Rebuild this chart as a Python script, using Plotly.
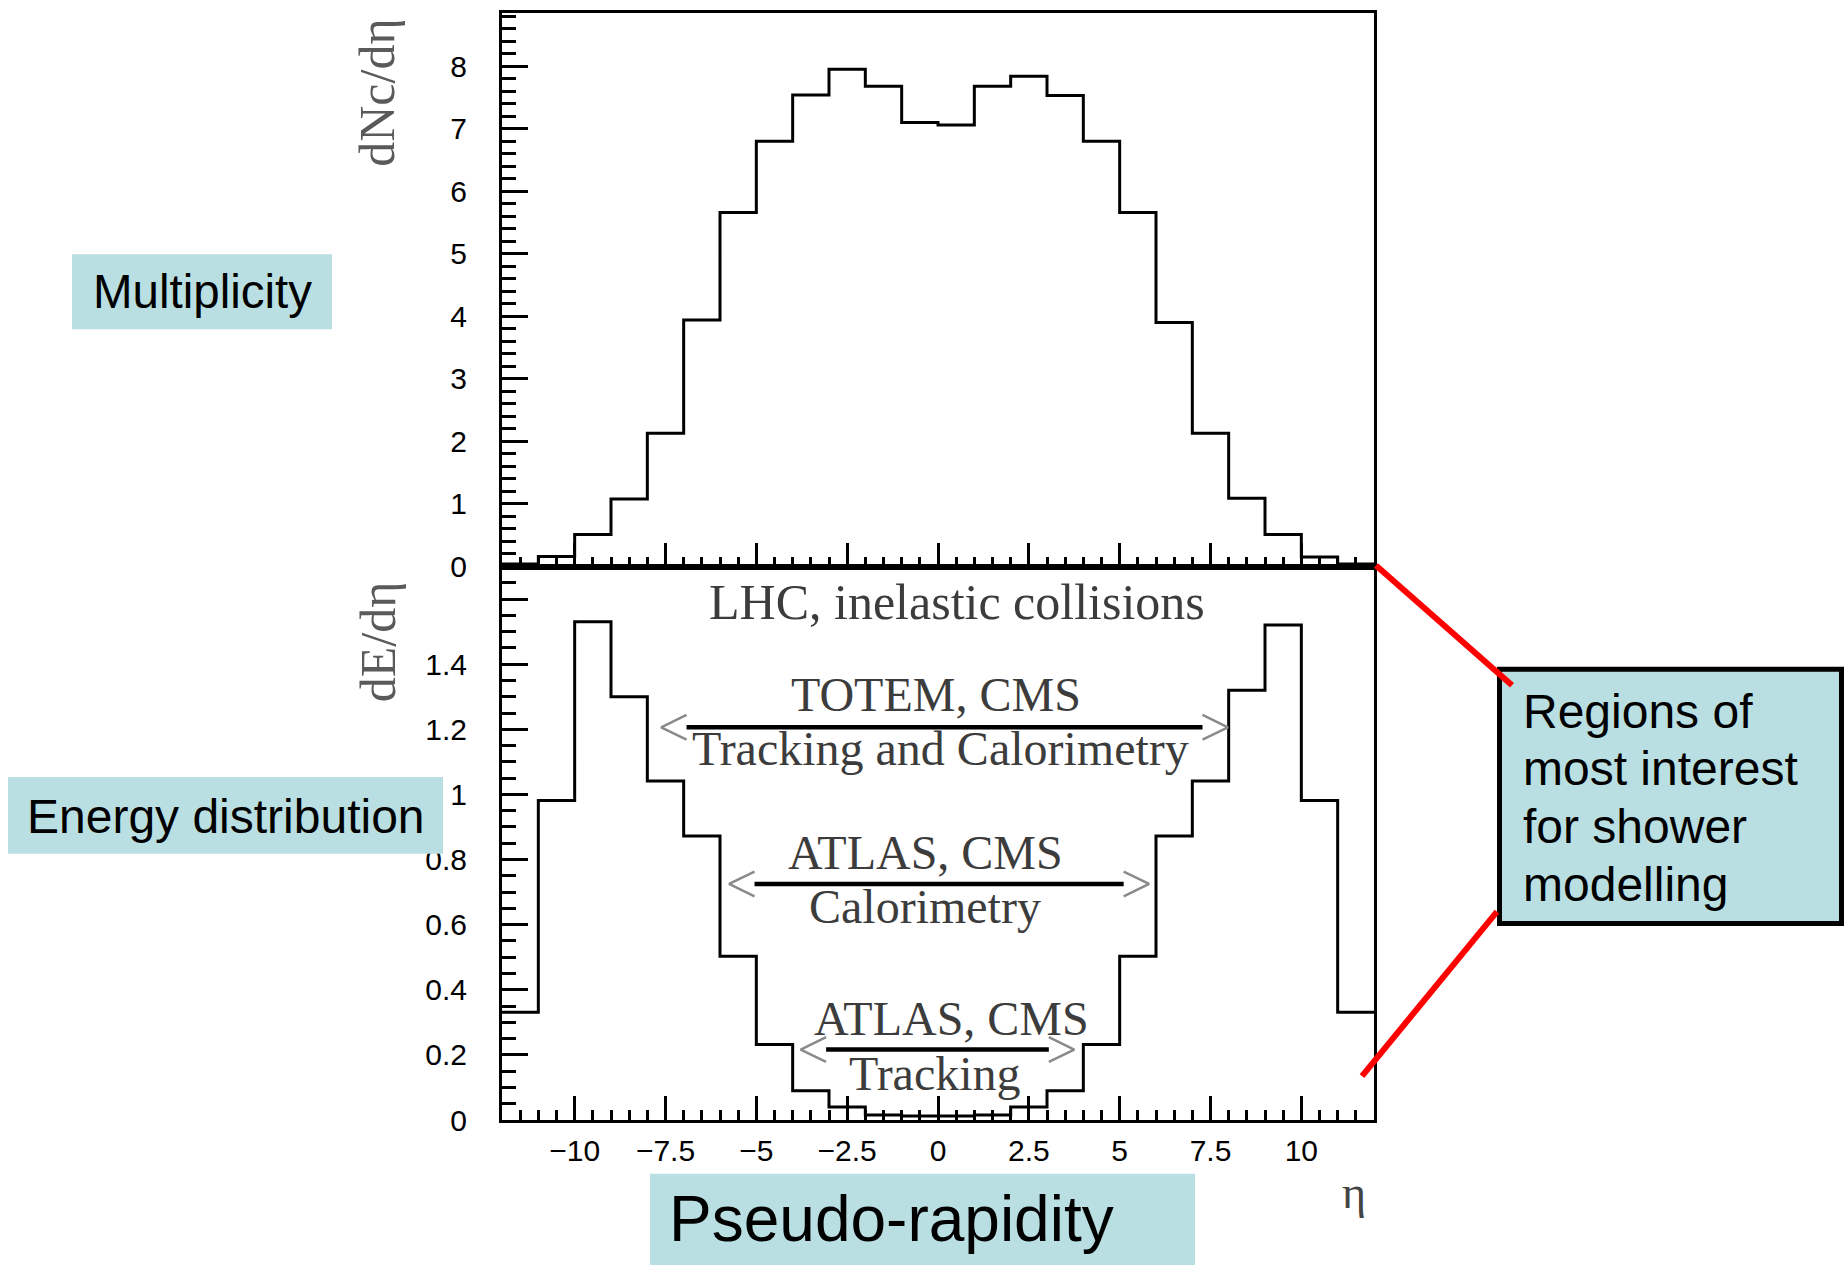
import plotly.graph_objects as go

# ---------------- data ----------------
eta_edges = [-12, -11, -10, -9, -8, -7, -6, -5, -4, -3, -2, -1, 0,
             1, 2, 3, 4, 5, 6, 7, 8, 9, 10, 11, 12]
dNc_deta = [0.04, 0.16, 0.51, 1.08, 2.13, 3.94, 5.66, 6.80, 7.54, 7.95, 7.68, 7.10,
            7.06, 7.68, 7.84, 7.53, 6.80, 5.66, 3.90, 2.13, 1.09, 0.51, 0.15, 0.04]
dE_deta = [0.331, 0.981, 1.53, 1.30, 1.041, 0.872, 0.503, 0.232, 0.09, 0.04, 0.015, 0.012,
           0.012, 0.015, 0.04, 0.09, 0.232, 0.503, 0.872, 1.041, 1.32, 1.52, 0.981, 0.331]

x_tickvals = [-10, -7.5, -5, -2.5, 0, 2.5, 5, 7.5, 10]
x_ticktext = ["\u221210", "\u22127.5", "\u22125", "\u22122.5", "0", "2.5", "5", "7.5", "10"]
y1_tickvals = [0, 1, 2, 3, 4, 5, 6, 7, 8]
y1_ticktext = ["0", "1", "2", "3", "4", "5", "6", "7", "8"]
y2_tickvals = [0, 0.2, 0.4, 0.6, 0.8, 1.0, 1.2, 1.4, 1.6]
y2_ticktext = ["0", "0.2", "0.4", "0.6", "0.8", "1", "1.2", "1.4", ""]

# coverage arrows (eta extent of the line, y level in dE/deta units)
arrow_lo = [-6.92, -5.05, -3.08]
arrow_hi = [7.28, 5.11, 3.05]
arrow_y = [1.206, 0.725, 0.2165]

panel_texts = ["LHC, inelastic collisions", "TOTEM, CMS", "Tracking and Calorimetry",
               "ATLAS, CMS", "Calorimetry", "ATLAS, CMS", "Tracking"]
panel_text_x = [0.52, -0.06, 0.07, -0.35, -0.35, 0.38, -0.09]
panel_text_y = [1.592, 1.307, 1.141, 0.821, 0.655, 0.313, 0.144]
panel_text_size = [50, 48, 48, 48, 48, 48, 48]

region_lines = ["Regions of", "most interest", "for shower", "modelling"]

# ---------------- geometry helpers ----------------
L, R, T, B = 502, 1374, 10, 1120
W, H = R - L, B - T


def pxx(x):
    return (x - L) / W


def pxy(y):
    return (B - y) / H


SANS = "Liberation Sans"
SERIF = "Liberation Serif"
BOXC = "#b9dfe2"

fig = go.Figure()

# histograms
fig.add_trace(go.Scatter(x=eta_edges, y=dNc_deta + [dNc_deta[-1]], mode="lines",
                         line=dict(shape="hv", color="black", width=3),
                         xaxis="x", yaxis="y", showlegend=False, hoverinfo="skip"))
fig.add_trace(go.Scatter(x=eta_edges, y=dE_deta + [dE_deta[-1]], mode="lines",
                         line=dict(shape="hv", color="black", width=3),
                         xaxis="x2", yaxis="y2", showlegend=False, hoverinfo="skip"))

# arrows: black shafts, grey open heads
HEAD_LEN, HEAD_HALF = 0.7, 0.038
sx, sy, hx, hy = [], [], [], []
for lo, hi, yy in zip(arrow_lo, arrow_hi, arrow_y):
    sx += [lo, hi, None]
    sy += [yy, yy, None]
    hx += [lo, lo - HEAD_LEN, lo, None, hi, hi + HEAD_LEN, hi, None]
    hy += [yy + HEAD_HALF, yy, yy - HEAD_HALF, None, yy + HEAD_HALF, yy, yy - HEAD_HALF, None]
fig.add_trace(go.Scatter(x=sx, y=sy, mode="lines", line=dict(color="black", width=4.5),
                         xaxis="x2", yaxis="y2", showlegend=False, hoverinfo="skip"))
fig.add_trace(go.Scatter(x=hx, y=hy, mode="lines", line=dict(color="#8a8a8a", width=2.5),
                         xaxis="x2", yaxis="y2", showlegend=False, hoverinfo="skip"))

annotations = []
for t, x, y, s in zip(panel_texts, panel_text_x, panel_text_y, panel_text_size):
    annotations.append(dict(text=t, x=x, y=y, xref="x2", yref="y2", showarrow=False,
                            xanchor="center", yanchor="middle",
                            font=dict(family=SERIF, size=s, color="#3c3c3c")))

# axis titles (ROOT style)
annotations.append(dict(text="dNc/d\u03b7", x=pxx(377), y=pxy(90), xref="paper", yref="paper",
                        showarrow=False, textangle=-90, xanchor="center", yanchor="middle",
                        font=dict(family=SERIF, size=50, color="#5a5a5a")))
annotations.append(dict(text="dE/d\u03b7", x=pxx(378), y=pxy(641), xref="paper", yref="paper",
                        showarrow=False, textangle=-90, xanchor="center", yanchor="middle",
                        font=dict(family=SERIF, size=50, color="#5a5a5a")))
annotations.append(dict(text="\u03b7", x=pxx(1354), y=pxy(1193), xref="paper", yref="paper",
                        showarrow=False, xanchor="center", yanchor="middle",
                        font=dict(family=SERIF, size=46, color="#444444")))

# slide labels
annotations.append(dict(text="Multiplicity", x=pxx(202), y=pxy(289), xref="paper", yref="paper",
                        showarrow=False, xanchor="center", yanchor="middle",
                        font=dict(family=SANS, size=47.5, color="black")))
annotations.append(dict(text="Energy distribution", x=pxx(226), y=pxy(815.5), xref="paper",
                        yref="paper", showarrow=False, xanchor="center", yanchor="middle",
                        font=dict(family=SANS, size=48, color="black")))
annotations.append(dict(text="Pseudo-rapidity", x=pxx(891.5), y=pxy(1219), xref="paper",
                        yref="paper", showarrow=False, xanchor="center", yanchor="middle",
                        font=dict(family=SANS, size=64, color="black")))
for i, line in enumerate(region_lines):
    annotations.append(dict(text=line, x=pxx(1521), y=pxy(710 + 57.8 * i), xref="paper",
                            yref="paper", showarrow=False, xanchor="left", yanchor="middle",
                            font=dict(family=SANS, size=48, color="black")))

shapes = [
    dict(type="rect", xref="paper", yref="paper", x0=pxx(72), x1=pxx(332), y0=pxy(252),
         y1=pxy(327), fillcolor=BOXC, line=dict(width=0), layer="above"),
    dict(type="rect", xref="paper", yref="paper", x0=pxx(8), x1=pxx(443), y0=pxy(776),
         y1=pxy(853), fillcolor=BOXC, line=dict(width=0), layer="above"),
    dict(type="rect", xref="paper", yref="paper", x0=pxx(650), x1=pxx(1195), y0=pxy(1174),
         y1=pxy(1275), fillcolor=BOXC, line=dict(width=0), layer="above"),
    dict(type="rect", xref="paper", yref="paper", x0=pxx(1499.5), x1=pxx(1841.5), y0=pxy(668),
         y1=pxy(923), fillcolor=BOXC, line=dict(width=5, color="black"), layer="above"),
    dict(type="line", xref="paper", yref="paper", x0=pxx(1376), y0=pxy(564), x1=pxx(1512),
         y1=pxy(684), line=dict(color="#ff0000", width=6), layer="above"),
    dict(type="line", xref="paper", yref="paper", x0=pxx(1497), y0=pxy(911), x1=pxx(1362),
         y1=pxy(1076), line=dict(color="#ff0000", width=6), layer="above"),
]

tickfont = dict(family=SANS, size=30, color="black")
common_x = dict(range=[-12, 12], showgrid=False, zeroline=False, showline=True,
                linecolor="black", linewidth=3, mirror=True, ticks="inside",
                tickvals=x_tickvals, ticklen=24, tickwidth=3, tickcolor="black",
                minor=dict(dtick=0.5, tick0=0, ticks="inside", ticklen=10, tickwidth=3,
                           tickcolor="black"))

fig.update_layout(
    width=1844, height=1265,
    margin=dict(l=L, r=1844 - R, t=T, b=1265 - B),
    paper_bgcolor="white", plot_bgcolor="white",
    showlegend=False,
    xaxis=dict(common_x, anchor="y", domain=[0, 1], showticklabels=False),
    xaxis2=dict(common_x, anchor="y2", domain=[0, 1], matches="x",
                ticktext=x_ticktext, showticklabels=True, tickfont=tickfont,
                ticklabelstandoff=2),
    yaxis=dict(domain=[0.5, 1], anchor="x", range=[0, 8.85], showgrid=False, zeroline=False,
               showline=True, linecolor="black", linewidth=3, mirror=True, ticks="inside",
               tickvals=y1_tickvals, ticktext=y1_ticktext, ticklen=26, tickwidth=3,
               tickcolor="black", tickfont=tickfont, ticklabelstandoff=26,
               minor=dict(dtick=0.2, tick0=0, ticks="inside", ticklen=14, tickwidth=3,
                          tickcolor="black")),
    yaxis2=dict(domain=[0, 0.5], anchor="x2", range=[0, 1.70], showgrid=False, zeroline=False,
                showline=True, linecolor="black", linewidth=3, mirror=True, ticks="inside",
                tickvals=y2_tickvals, ticktext=y2_ticktext, ticklen=26, tickwidth=3,
                tickcolor="black", tickfont=tickfont, ticklabelstandoff=26,
                minor=dict(dtick=0.05, tick0=0, ticks="inside", ticklen=14, tickwidth=3,
                           tickcolor="black")),
    annotations=annotations,
    shapes=shapes,
)

fig.write_html("out.html")
